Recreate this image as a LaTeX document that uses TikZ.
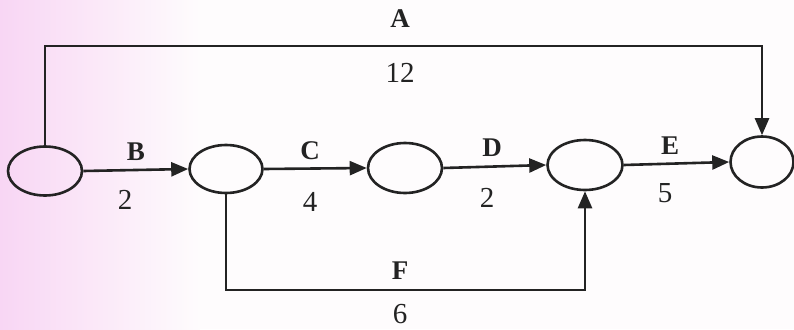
\documentclass[tikz,border=0pt]{standalone}
\usepackage{fontspec}
\setmainfont{Liberation Serif}
\usetikzlibrary{arrows.meta,shapes.geometric}
\definecolor{pinkbg}{RGB}{248,214,244}
\definecolor{lightbg}{RGB}{254,252,253}
\definecolor{ink}{RGB}{35,35,35}
\begin{document}
\begin{tikzpicture}[x=1pt,y=-1pt,
  ev/.style={draw=ink, line width=2.6pt, ellipse, inner sep=0pt, minimum width=74pt, minimum height=49pt},
  act/.style={draw=ink, line width=2.6pt, -{Triangle[length=17pt,width=14pt]}},
  lett/.style={text=ink, font=\fontsize{27}{29}\selectfont\bfseries, inner sep=0pt},
  dur/.style={text=ink, font=\fontsize{29}{31}\selectfont, inner sep=0pt}]
% background
\fill[lightbg] (0,0) rectangle (794,329);
\shade[left color=pinkbg, right color=lightbg] (0,0) rectangle (200,329);
\useasboundingbox (0,0) rectangle (794,329);
% events
\node[ev] (n1) at (45,171) {};
\node[ev, minimum width=73pt, minimum height=48pt] (n2) at (226,169) {};
\node[ev, minimum width=74pt, minimum height=50pt] (n3) at (405,168) {};
\node[ev, minimum width=75pt, minimum height=50pt] (n4) at (585,165) {};
\node[ev, minimum width=63pt, minimum height=51pt] (n5) at (762,162) {};
% corner coordinates
\coordinate (cA) at (400,46);
\coordinate (cF) at (400,290);
% activities
\draw[act] (n1.north) |- (cA) -| (n5.north);
\draw[act] (n1.east) -- (n2.west);
\draw[act] (n2.east) -- (n3.west);
\draw[act] (n3.east) -- (n4.west);
\draw[act] (n4.east) -- (n5.west);
\draw[act] (n2.south) |- (cF) -| (n4.south);
% labels
\node[lett] (lA) at (400,19) {A};
\node[dur] (dA) at (400,73) {12};
\node[lett] (lB) at (136,152) {B};
\node[dur] (dB) at (125,200) {2};
\node[lett] (lC) at (310,151) {C};
\node[dur] (dC) at (310,202) {4};
\node[lett] (lD) at (492,148) {D};
\node[dur] (dD) at (487,198) {2};
\node[lett] (lE) at (670,146) {E};
\node[dur] (dE) at (665,193) {5};
\node[lett] (lF) at (400,271) {F};
\node[dur] (dF) at (400,314) {6};
\end{tikzpicture}
\end{document}
